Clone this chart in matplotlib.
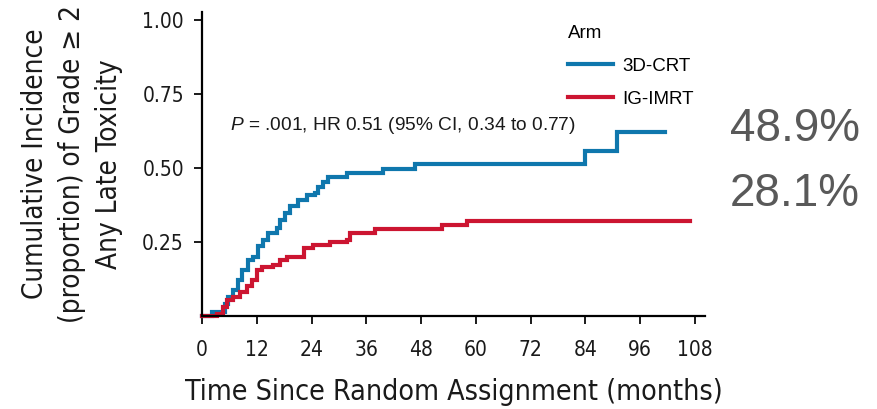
import matplotlib
matplotlib.use("Agg")
from matplotlib import pyplot as plt
from matplotlib import font_manager

# step curves (months, cumulative incidence)
crt_months = [0, 2.1, 5.0, 5.7, 6.8, 7.9, 8.7, 10.1, 11.2, 12.3, 13.4, 14.5, 16.4,
              17.1, 18.2, 19.3, 21.0, 23.0, 24.7, 25.4, 26.5, 27.6, 31.7, 39.6,
              46.6, 83.9, 91.0, 101.4]
crt_incidence = [0, 0.015, 0.04, 0.065, 0.088, 0.12, 0.155, 0.19, 0.2, 0.235, 0.257,
                 0.28, 0.297, 0.325, 0.347, 0.37, 0.392, 0.409, 0.415, 0.437, 0.453,
                 0.47, 0.482, 0.498, 0.515, 0.557, 0.622, 0.622]

imrt_months = [0, 3.3, 4.6, 5.5, 6.8, 8.3, 9.8, 10.9, 12.0, 13.1, 15.5, 17.1, 18.6,
               22.3, 24.3, 28.0, 31.7, 32.4, 38.0, 52.5, 58.0, 106.8]
imrt_incidence = [0, 0.007, 0.03, 0.054, 0.065, 0.08, 0.1, 0.12, 0.155, 0.166, 0.172,
                  0.19, 0.2, 0.23, 0.24, 0.25, 0.257, 0.28, 0.294, 0.307, 0.322, 0.322]

arms = ["3D-CRT", "IG-IMRT"]
arm_colors = ["#0f77ad", "#cc1531"]
x_ticks = [0, 12, 24, 36, 48, 60, 72, 84, 96, 108]
y_ticks = [0.25, 0.50, 0.75, 1.00]
rates = ["48.9%", "28.1%"]

# look for a condensed sans face for the axis texts
narrow = None
for f in font_manager.fontManager.ttflist:
    fn = f.fname.lower()
    if ("narrow" in fn or "condensed" in fn) and "sans" in fn and "bold" not in fn \
            and "italic" not in fn and "oblique" not in fn:
        narrow = font_manager.FontProperties(fname=f.fname)
        break
if narrow is None:
    narrow = font_manager.FontProperties(family="Liberation Sans")

plt.rcParams["font.family"] = ["Liberation Sans", "DejaVu Sans"]
plt.rcParams["mathtext.fontset"] = "custom"
plt.rcParams["mathtext.it"] = "Liberation Sans:italic"
plt.rcParams["mathtext.rm"] = "Liberation Sans"

fig = plt.figure(figsize=(8.77, 4.09), dpi=100)
ax = fig.add_axes([0.2303, 0.2274, 0.804 - 0.2303, 0.9707 - 0.2274])

for months, inc, color, name in [(crt_months, crt_incidence, arm_colors[0], arms[0]),
                                 (imrt_months, imrt_incidence, arm_colors[1], arms[1])]:
    ax.step(months, inc, where="post", color=color, lw=3, label=name,
            solid_joinstyle="miter", clip_on=False)

ax.set_xlim(0, 110.2)
ax.set_ylim(0, 1.027)
ax.set_xticks(x_ticks)
ax.set_yticks(y_ticks)
ax.set_yticklabels([f"{v:.2f}" for v in y_ticks])
for s in ["top", "right"]:
    ax.spines[s].set_visible(False)
for s in ["left", "bottom"]:
    ax.spines[s].set_linewidth(1.6)
ax.tick_params(axis="both", length=6, width=1.4, colors="#1a1a1a")
ax.tick_params(axis="x", pad=11)
ax.tick_params(axis="y", pad=7)
for lab in ax.get_xticklabels() + ax.get_yticklabels():
    lab.set_fontproperties(narrow)
    lab.set_fontsize(15)

ax.set_xlabel("Time Since Random Assignment (months)", fontproperties=narrow,
              fontsize=20.5, labelpad=13, color="#1a1a1a")
ax.set_ylabel("Cumulative Incidence\n(proportion) of Grade \u2265 2\nAny Late Toxicity",
              fontproperties=narrow, fontsize=20, linespacing=1.4, labelpad=14,
              color="#1a1a1a")

ax.text(0.056, 0.625, r"$P$ = .001, HR 0.51 (95% CI, 0.34 to 0.77)", transform=ax.transAxes,
        fontsize=13.8, va="center", ha="left", color="#1a1a1a")

leg = ax.legend(loc="upper left", bbox_to_anchor=(0.705, 0.995), title="Arm", frameon=False,
                fontsize=13.5, title_fontsize=13.5, handlelength=2.4, handletextpad=0.5,
                labelspacing=0.85, alignment="left", borderaxespad=0.2)
for line in leg.get_lines():
    line.set_linewidth(3)

fig.text(0.832, 0.685, rates[0], fontsize=33, color="#595959", va="center", ha="left")
fig.text(0.832, 0.525, rates[1], fontsize=33, color="#595959", va="center", ha="left")

fig.savefig("out.png", dpi=100)
